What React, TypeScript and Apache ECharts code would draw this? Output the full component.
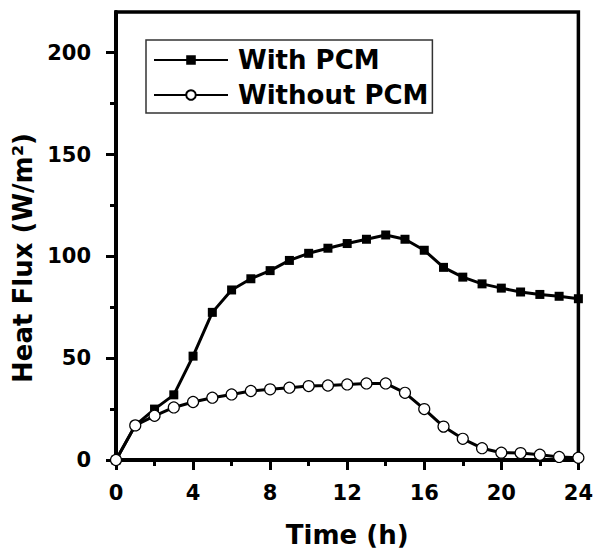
import React, { useEffect, useRef } from "react";
import * as echarts from "echarts";

const hours = [0, 1, 2, 3, 4, 5, 6, 7, 8, 9, 10, 11, 12, 13, 14, 15, 16, 17, 18, 19, 20, 21, 22, 23, 24];
const withPCM = [0, 17, 25, 32, 51, 72.5, 83.5, 89, 93, 98, 101.5, 104, 106.3, 108.4, 110.5, 108.4, 103, 94.6, 89.8, 86.5, 84.4, 82.5, 81.3, 80.4, 79.2];
const withoutPCM = [0, 17, 21.7, 25.8, 28.5, 30.6, 32.2, 33.9, 34.7, 35.5, 36.3, 36.6, 37.1, 37.6, 37.6, 33, 25, 16.4, 10.4, 5.8, 3.6, 3.4, 2.6, 1.5, 1.1];
const yMajorTicks = [0, 50, 100, 150, 200];
const yMinorTicks = [25, 75, 125, 175];
const seriesNames = ["With PCM", "Without PCM"];

const FONT = "DejaVu Sans";

export default function App() {
  const ref = useRef<HTMLDivElement>(null);
  useEffect(() => {
    const chart = echarts.init(ref.current!, null, { renderer: "svg" });
    const labelStyle = { fontFamily: FONT, fontSize: 21, fontWeight: "bold", color: "#000" };
    const nameStyle = { fontFamily: FONT, fontSize: 26, fontWeight: "bold", color: "#000" };
    chart.setOption({
      animation: false,
      backgroundColor: "#fff",
      grid: {
        left: 116,
        right: 16,
        top: 12,
        bottom: 90,
        show: true,
        borderColor: "#000",
        borderWidth: 3.5,
        backgroundColor: "transparent",
      },
      legend: {
        orient: "vertical",
        left: 146,
        top: 40,
        padding: [7, 4, 5, 7],
        itemWidth: 74,
        itemHeight: 12,
        itemGap: 9,
        borderColor: "#333",
        borderWidth: 1.5,
        data: seriesNames,
        textStyle: { ...nameStyle, padding: [0, 0, 0, 5] },
      },
      xAxis: {
        type: "value",
        min: 0,
        max: 24,
        interval: 4,
        name: "Time (h)",
        nameLocation: "middle",
        nameGap: 62,
        nameTextStyle: nameStyle,
        axisLine: { lineStyle: { color: "#000", width: 4 } },
        axisTick: { length: 10, lineStyle: { color: "#000", width: 3 } },
        minorTick: { show: true, splitNumber: 2, length: 6, lineStyle: { color: "#000", width: 3 } },
        axisLabel: { ...labelStyle, margin: 22 },
        splitLine: { show: false },
      },
      yAxis: [
        {
          type: "value",
          min: 0,
          max: 220,
          name: "Heat Flux (W/m²)",
          nameLocation: "middle",
          nameGap: 80,
          nameRotate: 90,
          nameTextStyle: { ...nameStyle, padding: [0, 44, 0, 0] },
          axisLine: { show: true, lineStyle: { color: "#000", width: 4 } },
          axisTick: { show: true, customValues: yMajorTicks, length: 10, lineStyle: { color: "#000", width: 3 } },
          axisLabel: { ...labelStyle, customValues: yMajorTicks, margin: 25 },
          splitLine: { show: false },
        },
        {
          type: "value",
          min: 0,
          max: 220,
          position: "left",
          axisLine: { show: false },
          axisTick: { show: true, customValues: yMinorTicks, length: 6, lineStyle: { color: "#000", width: 3 } },
          axisLabel: { show: false },
          splitLine: { show: false },
        },
      ],
      series: [
        {
          name: seriesNames[0],
          type: "line",
          data: hours.map((h, i) => [h, withPCM[i]]),
          symbol: "rect",
          symbolSize: 9,
          lineStyle: { color: "#000", width: 3 },
          itemStyle: { color: "#000" },
          z: 2,
        },
        {
          name: seriesNames[1],
          type: "line",
          data: hours.map((h, i) => [h, withoutPCM[i]]),
          symbol: "circle",
          symbolSize: 11,
          lineStyle: { color: "#000", width: 3 },
          itemStyle: { color: "#fff", borderColor: "#000", borderWidth: 1.2 },
          z: 3,
        },
      ],
    });
    return () => chart.dispose();
  }, []);
  return <div ref={ref} style={{ position: "fixed", left: 0, top: 0, width: 596, height: 553 }} />;
}
